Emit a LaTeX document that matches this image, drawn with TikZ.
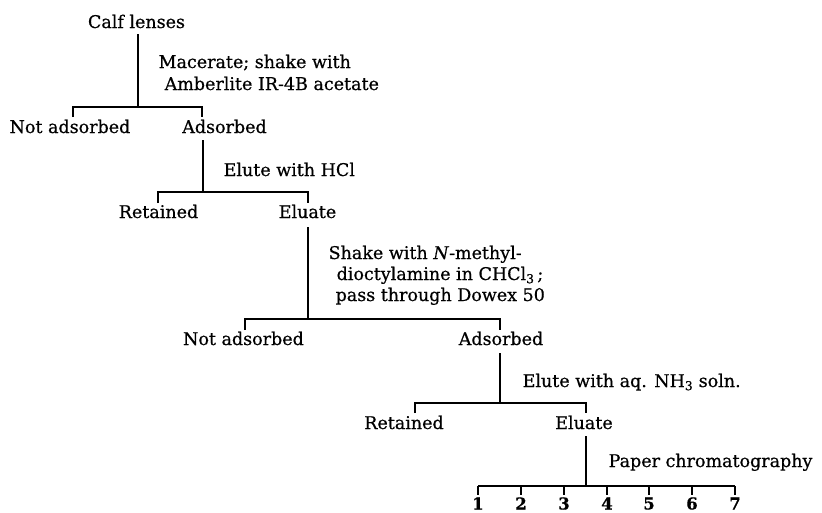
\documentclass[tikz,border=0pt]{standalone}
\usepackage{fontspec}
\setmainfont{DejaVu Serif}[FakeBold=0.6]
\begin{document}
\begin{tikzpicture}[x=1pt,y=-1pt,line width=1.3pt,
  lbl/.style={anchor=base,inner sep=0pt,font=\fontsize{17.5}{21}\selectfont},
  note/.style={anchor=base west,inner sep=0pt,font=\fontsize{17.5}{21}\selectfont},
  num/.style={anchor=base,inner sep=0pt,font=\fontsize{16.5}{20}\selectfont\bfseries},
  conn/.style={draw=black,line width=1.3pt}]
\useasboundingbox (0,0) rectangle (822,512);
% level 0
\node[lbl] (calf) at (136.5,28) {Calf lenses};
\node[note] (m1a) at (158,68) {Macerate; shake with};
\node[note] (m1b) at (164,90) {Amberlite IR-4B acetate};
\node[lbl] (na1) at (70,133) {Not adsorbed};
\node[lbl] (ad1) at (224.5,133) {Adsorbed};
\coordinate (a0) at (138,34);
\coordinate (a1) at (138,107);
\coordinate (a1l) at (73,107);
\coordinate (a1r) at (202,107);
\coordinate (a1lt) at (73,117);
\coordinate (a1rt) at (202,117);
\draw[conn] (a0) -- (a1);
\draw[conn] (a1lt) -- (a1l) -- (a1r) -- (a1rt);
% level 1
\node[note] (m2) at (223,176) {Elute with HCl};
\node[lbl] (re1) at (158.5,218) {Retained};
\node[lbl] (el1) at (307.5,218) {Eluate};
\coordinate (b0) at (203,140);
\coordinate (b1) at (203,192);
\coordinate (b1l) at (158,192);
\coordinate (b1r) at (308,192);
\coordinate (b1lt) at (158,203);
\coordinate (b1rt) at (308,203);
\draw[conn] (b0) -- (b1);
\draw[conn] (b1lt) -- (b1l) -- (b1r) -- (b1rt);
% level 2
\node[note] (m3a) at (328,259) {Shake with \textit{N}-methyl-};
\node[note] (m3b) at (336,280) {dioctylamine in CHCl\textsubscript{3}\,;};
\node[note] (m3c) at (335,301) {pass through Dowex 50};
\node[lbl] (na2) at (243.5,345) {Not adsorbed};
\node[lbl] (ad2) at (501,345) {Adsorbed};
\coordinate (c0) at (308,227);
\coordinate (c1) at (308,319);
\coordinate (c1l) at (245,319);
\coordinate (c1r) at (500,319);
\coordinate (c1lt) at (245,330);
\coordinate (c1rt) at (500,330);
\draw[conn] (c0) -- (c1);
\draw[conn] (c1lt) -- (c1l) -- (c1r) -- (c1rt);
% level 3
\node[note] (m4) at (522,387) {Elute with aq. NH\textsubscript{3} soln.};
\node[lbl] (re2) at (404,429) {Retained};
\node[lbl] (el2) at (584,429) {Eluate};
\coordinate (d0) at (500,353);
\coordinate (d1) at (500,403);
\coordinate (d1l) at (415,403);
\coordinate (d1r) at (586,403);
\coordinate (d1lt) at (415,413);
\coordinate (d1rt) at (586,413);
\draw[conn] (d0) -- (d1);
\draw[conn] (d1lt) -- (d1l) -- (d1r) -- (d1rt);
% level 4
\node[note] (m5) at (608,467) {Paper chromatography};
\coordinate (e0) at (586,436);
\coordinate (e1) at (586,486);
\draw[conn] (e0) -- (e1);
\coordinate (eL) at (478,486);
\coordinate (eR) at (735,486);
\draw[conn] (eL) -- (eR);
\foreach \i/\x in {1/478,2/521,3/564,4/607,5/649,6/692,7/735}{
  \coordinate (t\i) at (\x,486);
  \coordinate (tb\i) at (\x,495);
  \draw[conn] (t\i) -- (tb\i);
  \node[num] (n\i) at (\x,509.5) {\i};
}
\end{tikzpicture}
\end{document}
